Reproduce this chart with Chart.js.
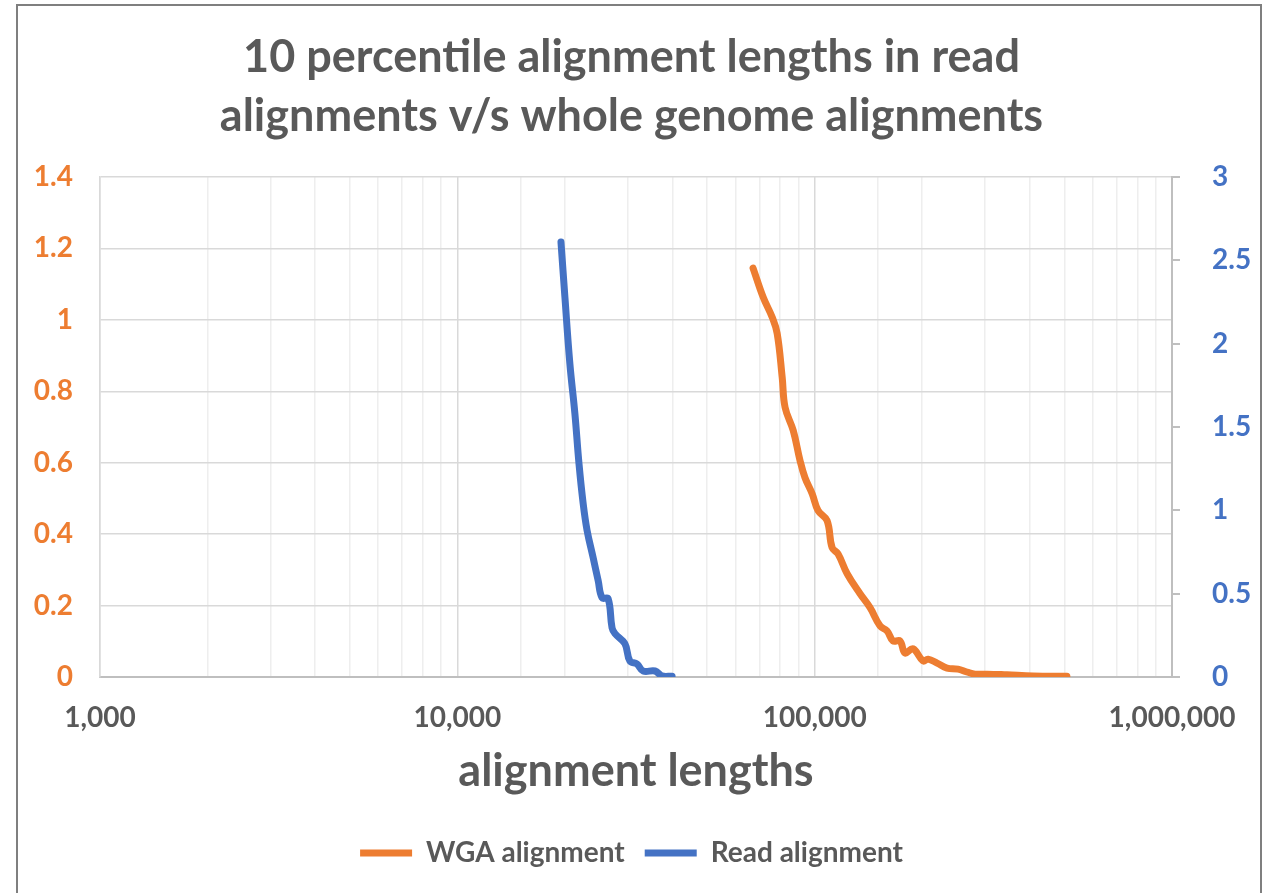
<!DOCTYPE html>
<html>
<head>
<meta charset="utf-8">
<script src="https://cdn.jsdelivr.net/npm/chart.js@4/dist/chart.umd.min.js"></script>
<style>
    body { margin: 0; background: #fff; overflow: hidden; }
    #wrap { position: relative; width: 1263px; height: 893px; }
    #frame {
        position: absolute; left: 16px; top: 4px; width: 1242px; height: 1000px;
        border: 2px solid #7f7f7f; border-bottom: none; pointer-events: none;
    }
</style>
</head>
<body>
<div id="wrap">
    <canvas id="chart"></canvas>
    <div id="frame"></div>
</div>
<script>
// WGA alignment (left axis)
const wgaLengths = [67230, 71780, 76060, 78530, 81120, 82640, 87100, 91000, 93970, 98400,
    102200, 108300, 111900, 116200, 123300, 134000, 142900, 152400, 159500, 165700,
    173300, 179000, 188500, 201000, 207600, 220100, 234600, 251800, 266700, 281100,
    303600, 345300, 408400, 508000];
const wgaValues = [1.145, 1.063, 1.007, 0.962, 0.839, 0.755, 0.690, 0.606, 0.558, 0.513,
    0.466, 0.438, 0.362, 0.345, 0.289, 0.233, 0.194, 0.143, 0.129, 0.101,
    0.101, 0.067, 0.079, 0.045, 0.050, 0.039, 0.025, 0.022, 0.014, 0.008,
    0.008, 0.006, 0.003, 0.002];

// Read alignment (right axis)
const readLengths = [19500, 20000, 20650, 21330, 21900, 22500, 23070, 23970, 24770, 25420,
    26420, 27100, 27620, 29440, 30400, 31830, 33110, 35760, 37400, 39900];
const readValues = [2.61, 2.28, 1.88, 1.58, 1.28, 1.04, 0.88, 0.72, 0.58, 0.475,
    0.47, 0.295, 0.26, 0.20, 0.096, 0.078, 0.036, 0.036, 0.006, 0.005];

const titleLines = ['10 percentile alignment lengths in read', 'alignments v/s whole genome alignments'];
const xTitle = 'alignment lengths';

const orange = '#ED7D31';
const blue = '#4472C4';
const textGray = '#595959';
const fontFamily = 'Lato, "Open Sans", sans-serif';

function toPoints(xs, ys) {
    return xs.map((x, i) => ({ x: x, y: ys[i] }));
}

function isDecade(v) {
    const l = Math.log10(v);
    return Math.abs(l - Math.round(l)) < 1e-9;
}

new Chart(document.getElementById('chart').getContext('2d'), {
    type: 'scatter',
    data: {
        datasets: [{
            label: 'WGA alignment',
            data: toPoints(wgaLengths, wgaValues),
            yAxisID: 'y',
            showLine: true,
            borderColor: orange,
            backgroundColor: orange,
            borderWidth: 7,
            borderCapStyle: 'round',
            borderJoinStyle: 'round',
            pointRadius: 0,
            tension: 0.4
        }, {
            label: 'Read alignment',
            data: toPoints(readLengths, readValues),
            yAxisID: 'y2',
            showLine: true,
            borderColor: blue,
            backgroundColor: blue,
            borderWidth: 7,
            borderCapStyle: 'round',
            borderJoinStyle: 'round',
            pointRadius: 0,
            tension: 0.4
        }]
    },
    options: {
        responsive: true,
        maintainAspectRatio: false,
        animation: false,
        layout: { padding: { bottom: 16 } },
        plugins: {
            title: {
                display: true,
                text: titleLines,
                color: textGray,
                font: { family: fontFamily, size: 45, weight: 'bold', lineHeight: 1.333 },
                padding: { top: 27, bottom: 30 }
            },
            legend: {
                position: 'bottom',
                labels: {
                    color: textGray,
                    font: { family: fontFamily, size: 28, weight: 'bold' },
                    usePointStyle: true,
                    pointStyle: 'line',
                    pointStyleWidth: 52,
                    padding: 20
                }
            },
            tooltip: { enabled: false }
        },
        scales: {
            x: {
                type: 'logarithmic',
                min: 1000,
                max: 1000000,
                afterFit: scale => { scale.height = 142; },
                grid: {
                    color: ctx => (ctx.tick && isDecade(ctx.tick.value)) ? '#d9d9d9' : '#eeeeee',
                    lineWidth: 1.5,
                    drawTicks: false
                },
                border: { display: true, color: '#bfbfbf', width: 2 },
                ticks: {
                    autoSkip: false,
                    maxRotation: 0,
                    padding: 24,
                    color: textGray,
                    font: { family: fontFamily, size: 28, weight: 'bold' },
                    callback: v => isDecade(v) ? Number(v).toLocaleString('en-US') : ''
                },
                title: {
                    display: true,
                    text: xTitle,
                    color: textGray,
                    font: { family: fontFamily, size: 45, weight: 'bold' },
                    padding: { top: 0, bottom: 21 }
                }
            },
            y: {
                position: 'left',
                min: 0,
                max: 1.4,
                afterFit: scale => { scale.width = 100; },
                grid: { color: '#d9d9d9', lineWidth: 1.5, drawTicks: false },
                border: { display: true, color: '#d9d9d9', width: 1.5 },
                ticks: {
                    stepSize: 0.2,
                    padding: 27,
                    color: orange,
                    font: { family: fontFamily, size: 28, weight: 'bold' },
                    callback: v => String(Number(v.toFixed(1)))
                }
            },
            y2: {
                position: 'right',
                min: 0,
                max: 3,
                afterFit: scale => { scale.width = 91; },
                grid: { drawOnChartArea: false, color: '#bfbfbf', lineWidth: 2, tickLength: 8 },
                border: { display: true, color: '#bfbfbf', width: 2 },
                ticks: {
                    stepSize: 0.5,
                    padding: 32,
                    color: blue,
                    font: { family: fontFamily, size: 28, weight: 'bold' },
                    callback: v => String(Number(v.toFixed(1)))
                }
            }
        }
    }
});
</script>
</body>
</html>
